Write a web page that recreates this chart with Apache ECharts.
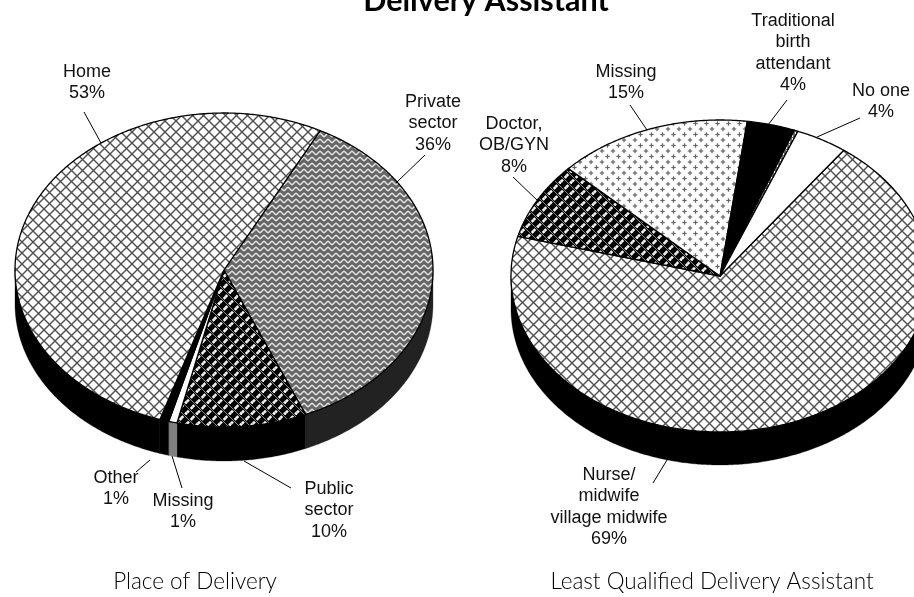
<!DOCTYPE html>
<html><head><meta charset="utf-8">
<style>html,body{margin:0;padding:0;background:#fff;overflow:hidden}#c{width:914px;height:597px}</style>
<script src="https://cdn.jsdelivr.net/npm/echarts@6/dist/echarts.min.js"></script>
</head><body><div id="c"></div>
<script>
// DATA
var placeCategories = ['Private sector', 'Public sector', 'Missing', 'Other', 'Home'];
var placeValues = [36, 10, 0.65, 0.7, 52.65];
var placePatterns = ['zigzag', 'weave', 'white', 'black', 'lattice'];
var placeSides = ['#222222', '#000000', '#808080', '#000000', '#000000'];

var assistantCategories = ['Nurse/midwife/village midwife', 'Doctor, OB/GYN', 'Missing', 'Traditional birth attendant', 'Other', 'No one'];
var assistantValues = [69, 8, 15, 3.7, 0.3, 4];
var assistantPatterns = ['lattice', 'weave', 'dots', 'black', 'sliver', 'white'];
var assistantSides = ['#000000', '#000000', '#000000', '#000000', '#000000', '#000000'];

var titleText = 'Delivery Assistant';
var captionPlace = 'Place of Delivery';
var captionAssistant = 'Least Qualified Delivery Assistant';

// LAYOUT
var placePie = {cx: 224, cy: 270, rx: 209, ry: 157, depth: 34, start: 27.4};
var assistantPie = {cx: 720, cy: 276, rx: 209, ry: 156, depth: 33, start: 36.3};

var labels = [
  {t: 'Home\n53%', x: 87, y: 61},
  {t: 'Private\nsector\n36%', x: 433, y: 91},
  {t: 'Other\n1%', x: 116, y: 467},
  {t: 'Missing\n1%', x: 183, y: 490},
  {t: 'Public\nsector\n10%', x: 329, y: 478},
  {t: 'Missing\n15%', x: 626, y: 61},
  {t: 'Traditional\nbirth\nattendant\n4%', x: 793, y: 10},
  {t: 'No one\n4%', x: 881, y: 80},
  {t: 'Doctor,\nOB/GYN\n8%', x: 514, y: 113},
  {t: 'Nurse/\nmidwife\nvillage midwife\n69%', x: 609, y: 464}
];
var leaders = [
  [84, 112, 101, 143], [425, 155, 396, 183], [150, 460, 136, 472], [172, 456, 182, 488],
  [244, 461, 291, 488], [630, 105, 647, 130], [787, 100, 768, 125], [860, 118, 817, 137],
  [513, 177, 538, 201], [667, 460, 653, 483]
];

function tile(w, h, draw) {
  var c = document.createElement('canvas');
  c.width = w; c.height = h;
  var g = c.getContext('2d');
  draw(g, w, h);
  return {image: c, repeat: 'repeat'};
}
function wrapLine(g, w, h, x0, y0, x1, y1) {
  for (var i = -1; i <= 1; i++) for (var j = -1; j <= 1; j++) {
    g.beginPath(); g.moveTo(x0 + i * w, y0 + j * h); g.lineTo(x1 + i * w, y1 + j * h); g.stroke();
  }
}
var patterns = {
  white: '#ffffff',
  black: '#000000',
  lattice: tile(11, 11, function (g, w, h) {
    g.fillStyle = '#fff'; g.fillRect(0, 0, w, h);
    g.strokeStyle = '#505050'; g.lineWidth = 1.4;
    wrapLine(g, w, h, 0, 0, w, h);
    wrapLine(g, w, h, 0, h, w, 0);
  }),
  zigzag: tile(8, 6, function (g, w, h) {
    g.fillStyle = '#666666'; g.fillRect(0, 0, w, h);
    g.strokeStyle = '#e4e4e4'; g.lineWidth = 1.5;
    wrapLine(g, w, h, 0, 1, 4, 5);
    wrapLine(g, w, h, 4, 5, 8, 1);
  }),
  weave: tile(11, 11, function (g, w, h) {
    g.fillStyle = '#000'; g.fillRect(0, 0, w, h);
    g.strokeStyle = '#f6f6f6'; g.lineWidth = 2.6;
    wrapLine(g, w, h, 0, 5.5, 5.5, 0);
    wrapLine(g, w, h, 5.5, 11, 11, 5.5);
    g.strokeStyle = '#000'; g.lineWidth = 2.6;
    wrapLine(g, w, h, 0, 0, w, h);
    g.strokeStyle = '#9a9a9a'; g.lineWidth = 0.9;
    wrapLine(g, w, h, 0, 0, w, h);
  }),
  dots: tile(11, 11, function (g, w, h) {
    g.fillStyle = '#fff'; g.fillRect(0, 0, w, h);
    g.fillStyle = '#666';
    [[2.5, 2.5], [8, 8]].forEach(function (p) {
      g.fillRect(p[0] - 2.2, p[1] - 0.6, 4.4, 1.2);
      g.fillRect(p[0] - 0.6, p[1] - 2.2, 1.2, 4.4);
    });
  }),
  sliver: tile(3, 3, function (g, w, h) {
    g.fillStyle = '#666'; g.fillRect(0, 0, w, h);
    g.fillStyle = '#fff'; g.fillRect(0, 0, 1, 2);
  })
};

function ellipsePoint(pie, deg, dy) {
  var a = deg * Math.PI / 180;
  return [pie.cx + pie.rx * Math.sin(a), pie.cy - pie.ry * Math.cos(a) + (dy || 0)];
}
function arc(pie, a0, a1, dy) {
  var pts = [], n = Math.max(2, Math.ceil(Math.abs(a1 - a0) * 2));
  for (var i = 0; i <= n; i++) pts.push(ellipsePoint(pie, a0 + (a1 - a0) * i / n, dy));
  return pts;
}
function sideBands(a0, a1) {
  // visible wall = where the rim faces the viewer (90..270 degrees, modulo 360)
  var out = [];
  [[90, 270], [450, 630]].forEach(function (r) {
    var s = Math.max(a0, r[0]), e = Math.min(a1, r[1]);
    if (e > s) out.push([s, e]);
  });
  return out;
}
function pieSeries(pie, names, values, patternNames, sideColors) {
  var total = values.reduce(function (a, b) { return a + b; }, 0);
  return {
    type: 'custom',
    coordinateSystem: 'none',
    silent: true,
    animation: false,
    data: values.map(function (v, i) { return {name: names[i], value: [i, v]}; }),
    renderItem: function (params, api) {
      var i = api.value(0), before = 0;
      for (var k = 0; k < i; k++) before += values[k];
      var a0 = pie.start + before / total * 360;
      var a1 = a0 + api.value(1) / total * 360;
      var children = [];
      sideBands(a0, a1).forEach(function (b) {
        var top = arc(pie, b[0], b[1], 0);
        var bottom = arc(pie, b[1], b[0], pie.depth);
        children.push({
          type: 'polygon', z2: 1,
          shape: {points: top.concat(bottom)},
          style: {fill: sideColors[i], stroke: sideColors[i], lineWidth: 0.3}
        });
      });
      children.push({
        type: 'polygon', z2: 10,
        shape: {points: [[pie.cx, pie.cy]].concat(arc(pie, a0, a1, 0))},
        style: {fill: patterns[patternNames[i]], stroke: '#000', lineWidth: 1.3, lineJoin: 'round'}
      });
      return {type: 'group', children: children};
    }
  };
}

var graphics = [];
leaders.forEach(function (l) {
  graphics.push({type: 'line', z: 20, shape: {x1: l[0], y1: l[1], x2: l[2], y2: l[3]}, style: {stroke: '#000', lineWidth: 1}});
});
labels.forEach(function (l) {
  graphics.push({type: 'text', z: 20, x: l.x, y: l.y, style: {
    text: l.t, fill: '#111', font: '18px "Liberation Sans"', align: 'center', verticalAlign: 'top', lineHeight: 21.5
  }});
});
graphics.push({type: 'text', z: 20, x: 486, y: 17, style: {text: titleText, fill: '#000', font: 'bold 30.5px Lato', align: 'center', verticalAlign: 'bottom'}});
graphics.push({type: 'text', z: 20, x: 195, y: 582, style: {text: captionPlace, fill: '#000', font: '300 22.5px Lato', align: 'center', verticalAlign: 'middle'}});
graphics.push({type: 'text', z: 20, x: 712, y: 582, style: {text: captionAssistant, fill: '#000', font: '300 22.5px Lato', align: 'center', verticalAlign: 'middle'}});

var chart = echarts.init(document.getElementById('c'), null, {renderer: 'canvas'});
chart.setOption({
  animation: false,
  backgroundColor: '#fff',
  series: [
    pieSeries(placePie, placeCategories, placeValues, placePatterns, placeSides),
    pieSeries(assistantPie, assistantCategories, assistantValues, assistantPatterns, assistantSides)
  ],
  graphic: graphics
});
</script></body></html>
